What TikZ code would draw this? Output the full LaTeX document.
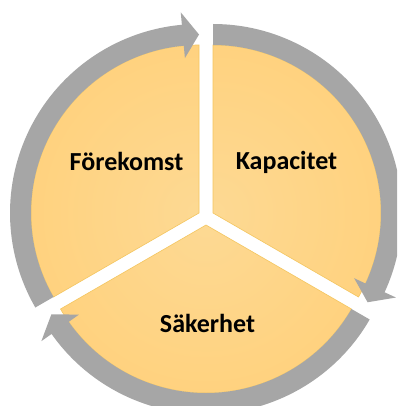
\documentclass[tikz,border=0pt]{standalone}
\usepackage{fontspec}
\setmainfont{Carlito}
\definecolor{ringgray}{HTML}{A6A6A6}
\definecolor{segin}{HTML}{FDD993}
\definecolor{segout}{HTML}{FFD27F}
\definecolor{segedge}{HTML}{F4C660}
\def\rin{168}
\def\rout{189}
\def\rmid{178.5}
\def\aw{23}
\def\dl{5.2}
\newcommand\cycseg[4]{%
  \begin{scope}[shift={(#1,#2)}]
    \begin{scope}
      \clip (0,0) -- (#3:\rin) arc[start angle=#3, end angle=#4, radius=\rin] -- cycle;
      \shade[inner color=segin, outer color=segout] (0,0) circle (\rin);
    \end{scope}
    \draw[segedge, line width=0.6] (0,0) -- (#3:\rin) arc[start angle=#3, end angle=#4, radius=\rin] -- cycle;
    \fill[ringgray] (#4:\rin) arc[start angle=#4, end angle=#3+\dl, radius=\rin]
      -- (#3+\dl:\rmid-\aw) -- (#3:\rmid) -- (#3+\dl:\rmid+\aw)
      -- (#3+\dl:\rout) arc[start angle=#3+\dl, end angle=#4, radius=\rout] -- cycle;
  \end{scope}}
\begin{document}
\begin{tikzpicture}[x=1pt,y=1pt,
  lbl/.style={font=\bfseries\fontsize{26}{31}\selectfont, text=black, anchor=base, inner sep=0pt}]
\clip (0,0) rectangle (397,-406);
\fill[white] (0,0) rectangle (397,-406);
\cycseg{199}{-213}{90}{210}
\cycseg{213}{-213}{-30}{90}
\cycseg{206}{-225}{210}{330}
\node[lbl] (f) at (126.5,-170) {Förekomst};
\node[lbl] (k) at (286.5,-169.5) {Kapacitet};
\node[lbl] (s) at (207.5,-332) {Säkerhet};
\end{tikzpicture}
\end{document}
